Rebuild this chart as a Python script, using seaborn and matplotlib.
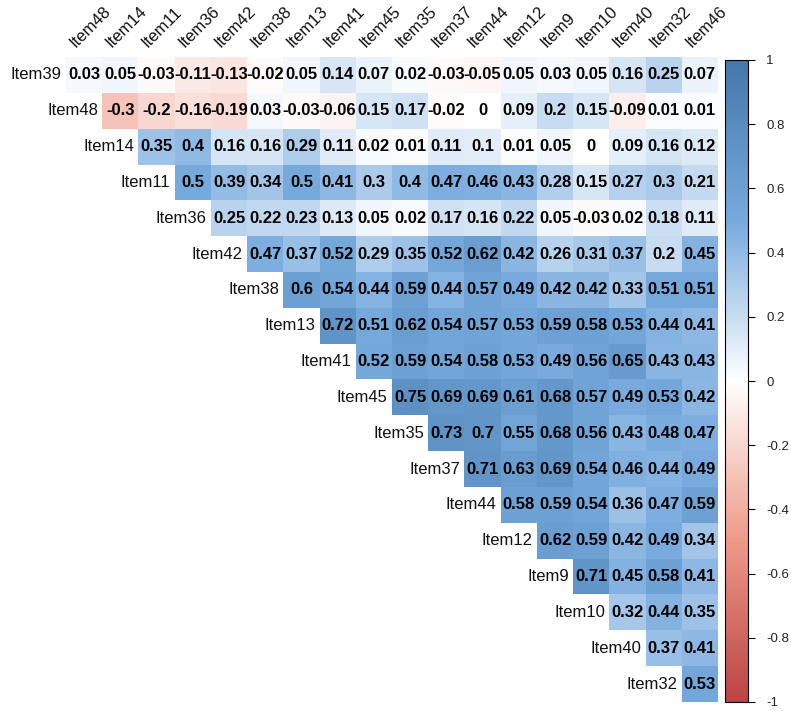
import numpy as np
import matplotlib
matplotlib.use("Agg")
import matplotlib.pyplot as plt
from matplotlib.colors import LinearSegmentedColormap
import seaborn as sns

# Row and column items of the upper-triangle correlation display
row_items = ["Item39", "Item48", "Item14", "Item11", "Item36", "Item42", "Item38",
             "Item13", "Item41", "Item45", "Item35", "Item37", "Item44", "Item12",
             "Item9", "Item10", "Item40", "Item32"]
col_items = ["Item48", "Item14", "Item11", "Item36", "Item42", "Item38", "Item13",
             "Item41", "Item45", "Item35", "Item37", "Item44", "Item12", "Item9",
             "Item10", "Item40", "Item32", "Item46"]

# Correlations per row, starting at the column that follows the row item
r_item39 = [0.03, 0.05, -0.03, -0.11, -0.13, -0.02, 0.05, 0.14, 0.07, 0.02, -0.03, -0.05, 0.05, 0.03, 0.05, 0.16, 0.25, 0.07]
r_item48 = [-0.3, -0.2, -0.16, -0.19, 0.03, -0.03, -0.06, 0.15, 0.17, -0.02, 0, 0.09, 0.2, 0.15, -0.09, 0.01, 0.01]
r_item14 = [0.35, 0.4, 0.16, 0.16, 0.29, 0.11, 0.02, 0.01, 0.11, 0.1, 0.01, 0.05, 0, 0.09, 0.16, 0.12]
r_item11 = [0.5, 0.39, 0.34, 0.5, 0.41, 0.3, 0.4, 0.47, 0.46, 0.43, 0.28, 0.15, 0.27, 0.3, 0.21]
r_item36 = [0.25, 0.22, 0.23, 0.13, 0.05, 0.02, 0.17, 0.16, 0.22, 0.05, -0.03, 0.02, 0.18, 0.11]
r_item42 = [0.47, 0.37, 0.52, 0.29, 0.35, 0.52, 0.62, 0.42, 0.26, 0.31, 0.37, 0.2, 0.45]
r_item38 = [0.6, 0.54, 0.44, 0.59, 0.44, 0.57, 0.49, 0.42, 0.42, 0.33, 0.51, 0.51]
r_item13 = [0.72, 0.51, 0.62, 0.54, 0.57, 0.53, 0.59, 0.58, 0.53, 0.44, 0.41]
r_item41 = [0.52, 0.59, 0.54, 0.58, 0.53, 0.49, 0.56, 0.65, 0.43, 0.43]
r_item45 = [0.75, 0.69, 0.69, 0.61, 0.68, 0.57, 0.49, 0.53, 0.42]
r_item35 = [0.73, 0.7, 0.55, 0.68, 0.56, 0.43, 0.48, 0.47]
r_item37 = [0.71, 0.63, 0.69, 0.54, 0.46, 0.44, 0.49]
r_item44 = [0.58, 0.59, 0.54, 0.36, 0.47, 0.59]
r_item12 = [0.62, 0.59, 0.42, 0.49, 0.34]
r_item9 = [0.71, 0.45, 0.58, 0.41]
r_item10 = [0.32, 0.44, 0.35]
r_item40 = [0.37, 0.41]
r_item32 = [0.53]

rows = [r_item39, r_item48, r_item14, r_item11, r_item36, r_item42, r_item38,
        r_item13, r_item41, r_item45, r_item35, r_item37, r_item44, r_item12,
        r_item9, r_item10, r_item40, r_item32]

# Colour-bar tick values
cbar_ticks = [-1, -0.8, -0.6, -0.4, -0.2, 0, 0.2, 0.4, 0.6, 0.8, 1]

n = len(row_items)
mat = np.full((n, n), np.nan)
for i, vals in enumerate(rows):
    mat[i, i:] = vals
mask = np.isnan(mat)

labels = np.full((n, n), "", dtype=object)
for i in range(n):
    for j in range(i, n):
        labels[i, j] = f"{mat[i, j]:g}"

cmap = LinearSegmentedColormap.from_list(
    "corr", ["#BB4444", "#EE9988", "#FFFFFF", "#77AADD", "#4477AA"], N=200)

sns.set_style("white")
plt.rcParams["font.family"] = ["Liberation Sans", "DejaVu Sans"]

W, H = 791, 711
fig = plt.figure(figsize=(W / 100, H / 100), dpi=100)
ax = fig.add_axes([66 / W, 9 / H, 652 / W, 645 / H])
cax = fig.add_axes([725 / W, 9 / H, 23 / W, 642 / H])

sns.heatmap(mat, mask=mask, cmap=cmap, vmin=-1, vmax=1, ax=ax, cbar_ax=cax,
            annot=labels, fmt="", xticklabels=False, yticklabels=False,
            annot_kws=dict(color="black", fontweight="bold", fontsize=12))

# Row names sit just left of the first cell of each row
for i, name in enumerate(row_items):
    ax.text(i - 0.12, i + 0.5, name, ha="right", va="center",
            fontsize=12, color="#111111")

# Column names rotated along the top edge
for j, name in enumerate(col_items):
    ax.text(j + 0.32, -0.2, name, ha="left", va="bottom", rotation=45,
            rotation_mode="anchor", fontsize=12, color="#111111")

ax.set_xlim(0, n)
ax.set_ylim(n, 0)
for s in ax.spines.values():
    s.set_visible(False)

cax.set_yticks(cbar_ticks)
cax.set_yticklabels([f"{t:g}" for t in cbar_ticks])
cax.tick_params(axis="y", length=5, width=0.8, color="black", labelsize=9.5,
                labelcolor="#222222", pad=8, right=True)
cbar = ax.collections[0].colorbar
cbar.outline.set_visible(True)
cbar.outline.set_edgecolor("black")
cbar.outline.set_linewidth(0.8)

fig.savefig("out.png", dpi=100)
